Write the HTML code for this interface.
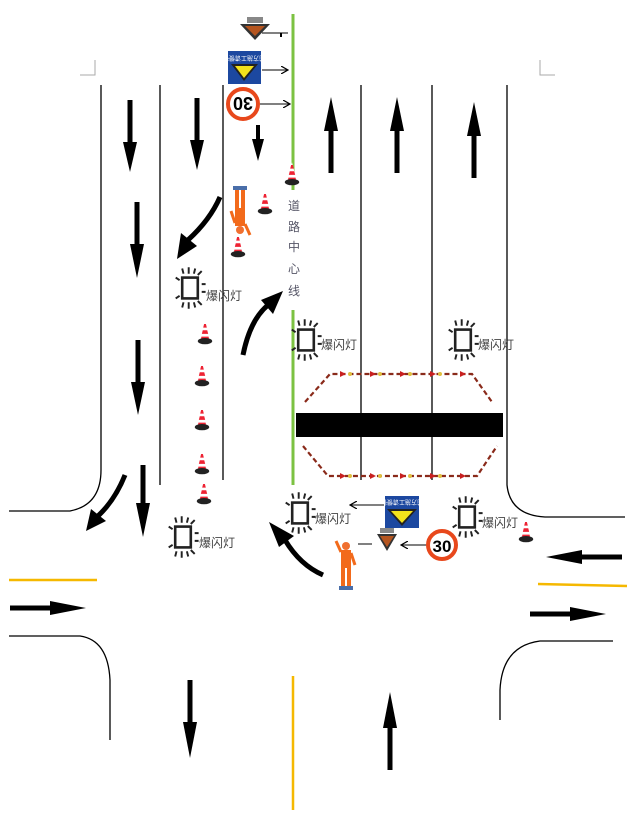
<!DOCTYPE html>
<html><head><meta charset="utf-8"><style>
html,body{margin:0;padding:0;background:#fff;width:632px;height:815px;overflow:hidden}
svg{display:block}
text{font-family:"Liberation Sans","Noto Sans CJK SC",sans-serif}
</style></head><body>
<svg width="632" height="815" viewBox="0 0 632 815" xmlns="http://www.w3.org/2000/svg">
<defs>
<symbol id="cone" viewBox="0 0 20 26" overflow="visible">
<polygon points="10,0 15,20 5,20" fill="#fff"/>
<polygon points="9,3 11,3 12,7 8,7" fill="#e23"/>
<polygon points="7.5,10 12.5,10 13.5,14 6.5,14" fill="#e23"/>
<polygon points="6,17 14,17 14.5,20 5.5,20" fill="#e23"/>
<ellipse cx="10" cy="22" rx="8" ry="3.5" fill="#222"/>
</symbol>
<g id="lamp0">
<rect x="-6" y="-8" width="12" height="16" fill="none" stroke="#222" stroke-width="2"/>
<path d="M-5,-11 L-6,-15 M-1,-11 L-1,-16 M3,-11 L4,-15 M6,-10 L9,-13 M-5,11 L-6,15 M-1,11 L-1,16 M3,11 L4,15 M6,10 L9,13 M-8,-6 L-11,-8 M-8,6 L-11,8 M9,-3 L12,-3 M9,3 L12,3" stroke="#222" stroke-width="1.5"/>
</g>
<g id="lamp"><use href="#lamp0" transform="scale(1.3)"/></g>
<symbol id="worker" viewBox="0 0 20 50" overflow="visible">
<circle cx="10" cy="5" r="4" fill="#f07030"/>
<rect x="5" y="9" width="10" height="18" fill="#f26a1b"/>
<rect x="5" y="27" width="4" height="18" fill="#f26a1b"/>
<rect x="11" y="27" width="4" height="18" fill="#f26a1b"/>
<path d="M5,11 L0,0" stroke="#f26a1b" stroke-width="3"/>
<path d="M15,12 L19,24" stroke="#f26a1b" stroke-width="3"/>
<rect x="3" y="45" width="14" height="4" fill="#4a6ea9"/>
</symbol>
<marker id="ah" markerWidth="8" markerHeight="8" refX="7" refY="4" orient="auto" markerUnits="userSpaceOnUse"><path d="M0,0 L7,4 L0,8" fill="none" stroke="#000" stroke-width="1.2"/></marker>
</defs>

<path d="M95,60 V75 H80 M540,60 V75 H555" fill="none" stroke="#aaa" stroke-width="1"/>

<g stroke="#000" stroke-width="1.3" fill="none">
<path d="M101,85 V470 Q101,505 70,511 H9"/>
<line x1="160" y1="85" x2="160" y2="485"/>
<line x1="223" y1="85" x2="223" y2="480"/>
<line x1="361" y1="85" x2="361" y2="480"/>
<line x1="432" y1="85" x2="432" y2="480"/>
<path d="M507,85 V485 Q510,515 545,517 H625"/>
<path d="M9,636 H80 Q108,640 110,680 V740"/>
<path d="M613,641 H540 Q502,646 500,690 V720"/>
</g>
<line x1="293" y1="14" x2="293" y2="190" stroke="#7cc242" stroke-width="3"/>
<line x1="293" y1="310" x2="293" y2="485" stroke="#7cc242" stroke-width="3"/>
<line x1="9" y1="580" x2="97" y2="580" stroke="#f5b800" stroke-width="2.5"/>
<line x1="538" y1="584" x2="627" y2="586" stroke="#f5b800" stroke-width="2.5"/>
<line x1="293" y1="676" x2="293" y2="810" stroke="#f5b800" stroke-width="2.5"/>

<g fill="#000">
<g transform="translate(130,100)"><rect x="-2.5" y="0" width="5" height="45"/><polygon points="-7,42 7,42 0,72"/></g>
<g transform="translate(137,202)"><rect x="-2.5" y="0" width="5" height="45"/><polygon points="-7,42 7,42 0,76"/></g>
<g transform="translate(138,340)"><rect x="-2.5" y="0" width="5" height="45"/><polygon points="-7,42 7,42 0,75"/></g>
<g transform="translate(197,98)"><rect x="-2.5" y="0" width="5" height="45"/><polygon points="-7,42 7,42 0,72"/></g>
<g transform="translate(258,125)"><rect x="-2" y="0" width="4" height="15"/><polygon points="-6,14 6,14 0,36"/></g>
<g transform="translate(143,465)"><rect x="-2.5" y="0" width="5" height="40"/><polygon points="-7,38 7,38 0,72"/></g>
<g transform="translate(190,680)"><rect x="-2.5" y="0" width="5" height="45"/><polygon points="-7,42 7,42 0,78"/></g>
<g transform="translate(331,173)"><rect x="-2.5" y="-45" width="5" height="45"/><polygon points="-7,-42 7,-42 0,-76"/></g>
<g transform="translate(397,173)"><rect x="-2.5" y="-45" width="5" height="45"/><polygon points="-7,-42 7,-42 0,-76"/></g>
<g transform="translate(474,178)"><rect x="-2.5" y="-45" width="5" height="45"/><polygon points="-7,-42 7,-42 0,-76"/></g>
<g transform="translate(390,770)"><rect x="-2.5" y="-45" width="5" height="45"/><polygon points="-7,-42 7,-42 0,-78"/></g>
<g transform="translate(622,557)"><rect x="-45" y="-2.5" width="45" height="5"/><polygon points="-40,-7 -40,7 -76,0"/></g>
<g transform="translate(10,608)"><rect x="0" y="-2.5" width="45" height="5"/><polygon points="40,-7 40,7 76,0"/></g>
<g transform="translate(530,614)"><rect x="0" y="-2.5" width="45" height="5"/><polygon points="40,-7 40,7 76,0"/></g>
</g>

<g fill="none" stroke="#000" stroke-width="5">
<path d="M220,197 Q210,220 188,240"/>
<path d="M243,355 Q250,320 268,305"/>
<path d="M125,475 Q115,500 98,516"/>
<path d="M323,575 Q300,565 285,540"/>
</g>
<g fill="#000">
<polygon points="177,259 181,233 197,246"/>
<polygon points="283,291 261,300 273,314"/>
<polygon points="86,531 91,509 106,521"/>
<polygon points="269,522 279,547 294,536"/>
</g>

<g fill="none" stroke="#8a2a1a" stroke-width="2.2" stroke-dasharray="5,3">
<path d="M305,402 L330,374 H472 L492,402"/>
<path d="M303,446 L328,476 H477 L497,446"/>
</g>
<g fill="#e0c040">
<circle cx="350" cy="374" r="2"/><circle cx="380" cy="374" r="2"/><circle cx="410" cy="374" r="2"/><circle cx="440" cy="374" r="2"/>
<circle cx="350" cy="476" r="2"/><circle cx="380" cy="476" r="2"/><circle cx="410" cy="476" r="2"/><circle cx="440" cy="476" r="2"/>
</g>
<g fill="#c82020">
<polygon points="340,371 346,374 340,377"/><polygon points="370,371 376,374 370,377"/><polygon points="400,371 406,374 400,377"/><polygon points="430,371 436,374 430,377"/><polygon points="460,371 466,374 460,377"/>
<polygon points="340,473 346,476 340,479"/><polygon points="370,473 376,476 370,479"/><polygon points="400,473 406,476 400,479"/><polygon points="430,473 436,476 430,479"/><polygon points="460,473 466,476 460,479"/>
</g>
<rect x="296" y="413" width="207" height="24" fill="#000"/>

<g font-size="12" fill="#556" text-anchor="middle">
<text x="294" y="210">道</text><text x="294" y="231">路</text><text x="294" y="251">中</text><text x="294" y="273">心</text><text x="294" y="295">线</text>
</g>

<g font-size="12" fill="#444">
<use href="#lamp" x="190" y="288"/><text x="206" y="300">爆闪灯</text>
<use href="#lamp" x="306" y="340"/><text x="321" y="349">爆闪灯</text>
<use href="#lamp" x="463" y="340"/><text x="478" y="349">爆闪灯</text>
<use href="#lamp" x="300" y="513"/><text x="315" y="523">爆闪灯</text>
<use href="#lamp" x="467" y="517"/><text x="482" y="527">爆闪灯</text>
<use href="#lamp" x="183" y="537"/><text x="199" y="547">爆闪灯</text>
</g>

<use href="#cone" x="283" y="162" width="18" height="24"/>
<use href="#cone" x="256" y="190" width="18" height="26"/>
<use href="#cone" x="229" y="233" width="18" height="26"/>
<use href="#cone" x="196" y="320" width="18" height="26"/>
<use href="#cone" x="193" y="362" width="18" height="26"/>
<use href="#cone" x="193" y="406" width="18" height="26"/>
<use href="#cone" x="193" y="450" width="18" height="26"/>
<use href="#cone" x="195" y="480" width="18" height="26"/>
<use href="#cone" x="517" y="518" width="18" height="26"/>

<rect x="247" y="17" width="16" height="6" fill="#888"/>
<polygon points="240,24 270,24 255,40" fill="#333"/>
<polygon points="245,26 265,26 255,36" fill="#b5551f"/>
<line x1="262" y1="33" x2="288" y2="33" stroke="#000"/><line x1="281" y1="33" x2="281" y2="37" stroke="#000" stroke-width="2"/>
<rect x="228" y="51" width="33" height="33" fill="#1c48a0"/>
<text x="244" y="60" font-size="6" fill="#fff" text-anchor="middle" transform="rotate(180 244 58)">前方施工请慢行</text>
<polygon points="231,64 258,64 244,81" fill="#222"/><polygon points="235,66 254,66 244,78" fill="#f3e21c"/>
<line x1="262" y1="70" x2="288" y2="70" stroke="#000" marker-end="url(#ah)"/>
<circle cx="243" cy="104" r="15" fill="#fff" stroke="#e8481c" stroke-width="4"/>
<text x="243" y="111" font-size="18" font-weight="bold" text-anchor="middle" transform="rotate(180 243 104)">30</text>
<line x1="260" y1="104" x2="290" y2="104" stroke="#000" marker-end="url(#ah)"/>
<use href="#worker" x="230" y="185" width="20" height="50" transform="rotate(180 240 210)"/>

<rect x="385" y="496" width="34" height="32" fill="#1c48a0"/>
<text x="402" y="504" font-size="6" fill="#fff" text-anchor="middle" transform="rotate(180 402 502)">前方施工请慢行</text>
<polygon points="387,509 417,509 402,526" fill="#222"/><polygon points="391,511 413,511 402,523" fill="#f3e21c"/>
<line x1="384" y1="505" x2="350" y2="505" stroke="#000" marker-end="url(#ah)"/>
<rect x="380" y="528" width="14" height="5" fill="#888"/>
<polygon points="377,534 397,534 387,551" fill="#333"/><polygon points="380,536 394,536 387,547" fill="#b5551f"/>
<line x1="358" y1="544" x2="372" y2="544" stroke="#000"/>
<line x1="427" y1="545" x2="401" y2="545" stroke="#000" marker-end="url(#ah)"/>
<circle cx="442" cy="545" r="14" fill="#fff" stroke="#e8481c" stroke-width="4"/>
<text x="442" y="552" font-size="17" font-weight="bold" text-anchor="middle">30</text>
<use href="#worker" x="336" y="541" width="20" height="50"/>
</svg>
</body></html>
